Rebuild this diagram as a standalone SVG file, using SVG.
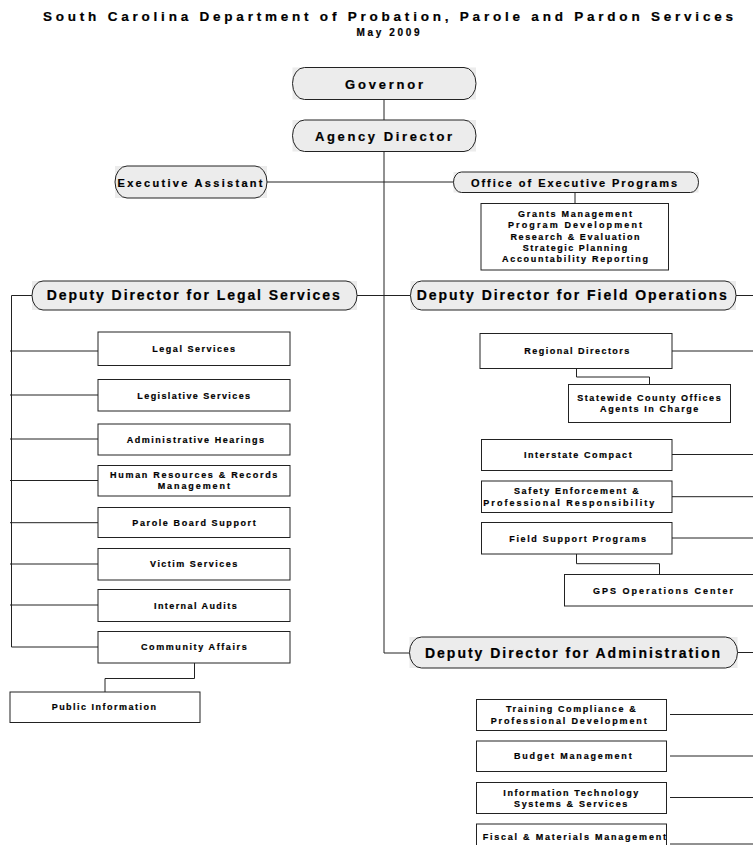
<svg xmlns="http://www.w3.org/2000/svg" width="753" height="845" viewBox="0 0 753 845">
<style>
text{font-family:"Liberation Sans",Arial,sans-serif;font-weight:bold;fill:#000;stroke:#000;stroke-width:0.2;text-anchor:middle}
.bg{fill:#ececec}
.ov{fill:none;stroke:#222;stroke-width:1}
.box{fill:#fff;stroke:#222;stroke-width:1}
.ln{fill:none;stroke:#222;stroke-width:1}
.t{font-size:9px}
.h{font-size:14px}
.m{font-size:13px}
.s{font-size:11px}
</style>
<rect width="753" height="845" fill="#fff"/>
<g id="title">
<text x="388" y="21" font-size="13.5" textLength="690" lengthAdjust="spacing">South Carolina Department of Probation, Parole and Pardon Services</text>
<text x="388" y="36" font-size="10" textLength="63" lengthAdjust="spacing">May 2009</text>
</g>
<g id="connectors" class="ln">
<path d="M384 99.5V120"/>
<path d="M384 151.5V653H409.5"/>
<path d="M267 182H453.5"/>
<path d="M575 192.5V203.5"/>
<path d="M357 295.5H410.5"/>
<path d="M32 295.5H11.5V647H98"/>
<path d="M10 351H98M10 395H98M10 439H98M10 480.5H98M10 522.7H98M10 564H98M10 605H98"/>
<path d="M194.5 663V678.5H105V692"/>
<path d="M736 295.5H753"/>
<path d="M672 351H753M672 454.5H753M672 496.7H753M672 538H753"/>
<path d="M576.5 368.5V377H649.5V384.5"/>
<path d="M576.5 554V563.7H659.5V574.5"/>
<path d="M737.5 652.5H753"/>
<path d="M670 714.5H753M670 756H753M670 797.5H753M670 844H753"/>
</g>
<g id="governor">
<rect class="bg" x="292.5" y="67.5" width="183.5" height="32"/>
<path class="ov" d="M304.5 67.5H464A12 16 0 0 1 464 99.5H304.5A12 16 0 0 1 304.5 67.5Z"/>
<text class="m" x="384" y="88.5" textLength="78" lengthAdjust="spacing">Governor</text>
</g>
<g id="agency-director">
<rect class="bg" x="292.5" y="120" width="183.5" height="31.5"/>
<path class="ov" d="M304.5 120H464A12 15.75 0 0 1 464 151.5H304.5A12 15.75 0 0 1 304.5 120Z"/>
<text class="m" x="383.5" y="140.5" textLength="137" lengthAdjust="spacing">Agency Director</text>
</g>
<g id="executive-assistant">
<rect class="bg" x="115" y="166" width="152" height="32"/>
<path class="ov" d="M127 166H255A12 16 0 0 1 255 198H127A12 16 0 0 1 127 166Z"/>
<text class="s" x="190" y="186.5" textLength="145" lengthAdjust="spacing">Executive Assistant</text>
</g>
<g id="office-executive-programs">
<rect class="bg" x="453.5" y="172" width="245" height="20.5"/>
<path class="ov" d="M461.5 172H690.5A8 10.25 0 0 1 690.5 192.5H461.5A8 10.25 0 0 1 461.5 172Z"/>
<text class="s" x="574" y="186.5" textLength="206" lengthAdjust="spacing">Office of Executive Programs</text>
</g>
<g id="exec-programs-units">
<rect class="box" x="481" y="203.5" width="187.5" height="66.5"/>
<text class="t" x="575" y="217" textLength="114" lengthAdjust="spacing">Grants Management</text>
<text class="t" x="575" y="228.3" textLength="134" lengthAdjust="spacing">Program Development</text>
<text class="t" x="575" y="239.7" textLength="129" lengthAdjust="spacing">Research &amp; Evaluation</text>
<text class="t" x="575" y="251" textLength="104.7" lengthAdjust="spacing">Strategic Planning</text>
<text class="t" x="575" y="262.3" textLength="146" lengthAdjust="spacing">Accountability Reporting</text>
</g>
<g id="dd-legal">
<rect class="bg" x="32" y="281" width="325" height="29"/>
<path class="ov" d="M43 281H346A11 14.5 0 0 1 346 310H43A11 14.5 0 0 1 43 281Z"/>
<text class="h" x="193.3" y="300.3" textLength="293" lengthAdjust="spacing">Deputy Director for Legal Services</text>
</g>
<g id="dd-field">
<rect class="bg" x="410.5" y="281" width="325.5" height="29"/>
<path class="ov" d="M421.5 281H725A11 14.5 0 0 1 725 310H421.5A11 14.5 0 0 1 421.5 281Z"/>
<text class="h" x="571.7" y="300.3" textLength="310" lengthAdjust="spacing">Deputy Director for Field Operations</text>
</g>
<g id="dd-admin">
<rect class="bg" x="409.5" y="637" width="328" height="31"/>
<path class="ov" d="M421.5 637H725.5A12 15.5 0 0 1 725.5 668H421.5A12 15.5 0 0 1 421.5 637Z"/>
<text class="h" x="572.5" y="657.7" textLength="295" lengthAdjust="spacing">Deputy Director for Administration</text>
</g>
<g id="legal-services">
<rect class="box" x="98" y="332" width="192" height="33.5"/>
<text class="t" x="193.7" y="351.8" textLength="82.7" lengthAdjust="spacing">Legal Services</text>
</g>
<g id="legislative-services">
<rect class="box" x="98" y="379.5" width="192" height="31.5"/>
<text class="t" x="193.7" y="398.5" textLength="112.7" lengthAdjust="spacing">Legislative Services</text>
</g>
<g id="administrative-hearings">
<rect class="box" x="98" y="424" width="192" height="31"/>
<text class="t" x="195.3" y="442.7" textLength="137.3" lengthAdjust="spacing">Administrative Hearings</text>
</g>
<g id="human-resources">
<rect class="box" x="98" y="465.5" width="192" height="30.5"/>
<text class="t" x="193.7" y="477.9" textLength="167.3" lengthAdjust="spacing">Human Resources &amp; Records</text>
<text class="t" x="193.8" y="489.2" textLength="72.3" lengthAdjust="spacing">Management</text>
</g>
<g id="parole-board-support">
<rect class="box" x="98" y="507.5" width="192" height="30"/>
<text class="t" x="194" y="525.7" textLength="123.3" lengthAdjust="spacing">Parole Board Support</text>
</g>
<g id="victim-services">
<rect class="box" x="98" y="548.5" width="192" height="31.5"/>
<text class="t" x="193.7" y="567.4" textLength="87.3" lengthAdjust="spacing">Victim Services</text>
</g>
<g id="internal-audits">
<rect class="box" x="98" y="589.5" width="192" height="32"/>
<text class="t" x="195.3" y="608.7" textLength="82.7" lengthAdjust="spacing">Internal Audits</text>
</g>
<g id="community-affairs">
<rect class="box" x="98" y="631.5" width="192" height="31.5"/>
<text class="t" x="193.8" y="650.4" textLength="105.7" lengthAdjust="spacing">Community Affairs</text>
</g>
<g id="public-information">
<rect class="box" x="10" y="692" width="190" height="30.5"/>
<text class="t" x="103.8" y="710.2" textLength="104.3" lengthAdjust="spacing">Public Information</text>
</g>
<g id="regional-directors">
<rect class="box" x="480" y="333.5" width="192" height="35"/>
<text class="t" x="576.8" y="354.2" textLength="105" lengthAdjust="spacing">Regional Directors</text>
</g>
<g id="statewide-county-offices">
<rect class="box" x="568.5" y="384.5" width="162" height="38"/>
<text class="t" x="649" y="401.2" textLength="143.3" lengthAdjust="spacing">Statewide County Offices</text>
<text class="t" x="649.2" y="412.2" textLength="98.3" lengthAdjust="spacing">Agents In Charge</text>
</g>
<g id="interstate-compact">
<rect class="box" x="481.5" y="439.5" width="190.5" height="31"/>
<text class="t" x="577.8" y="458.2" textLength="107.7" lengthAdjust="spacing">Interstate Compact</text>
</g>
<g id="safety-enforcement">
<rect class="box" x="481.5" y="481" width="190.5" height="31.5"/>
<text class="t" x="576.3" y="494.2" textLength="124.7" lengthAdjust="spacing">Safety Enforcement &amp;</text>
<text class="t" x="568.8" y="505.7" textLength="171" lengthAdjust="spacing">Professional Responsibility</text>
</g>
<g id="field-support-programs">
<rect class="box" x="481.5" y="522.5" width="190.5" height="31.5"/>
<text class="t" x="577.7" y="541.5" textLength="136.7" lengthAdjust="spacing">Field Support Programs</text>
</g>
<g id="gps-operations-center">
<rect class="box" x="564.5" y="574.5" width="200" height="31.5"/>
<text class="t" x="663" y="593.7" textLength="140" lengthAdjust="spacing">GPS Operations Center</text>
</g>
<g id="training-compliance">
<rect class="box" x="476.5" y="699.5" width="190" height="31"/>
<text class="t" x="570.8" y="712.2" textLength="129.7" lengthAdjust="spacing">Training Compliance &amp;</text>
<text class="t" x="568.7" y="723.7" textLength="156" lengthAdjust="spacing">Professional Development</text>
</g>
<g id="budget-management">
<rect class="box" x="476.5" y="741" width="190" height="30.5"/>
<text class="t" x="572.8" y="759.2" textLength="117.7" lengthAdjust="spacing">Budget Management</text>
</g>
<g id="information-technology">
<rect class="box" x="476.5" y="782.5" width="190" height="31"/>
<text class="t" x="570.8" y="795.7" textLength="135" lengthAdjust="spacing">Information Technology</text>
<text class="t" x="570.7" y="806.9" textLength="113.3" lengthAdjust="spacing">Systems &amp; Services</text>
</g>
<g id="fiscal-materials">
<rect class="box" x="476.5" y="824" width="190" height="30"/>
<text class="t" x="574.3" y="839.9" textLength="183.3" lengthAdjust="spacing">Fiscal &amp; Materials Management</text>
</g>
</svg>
